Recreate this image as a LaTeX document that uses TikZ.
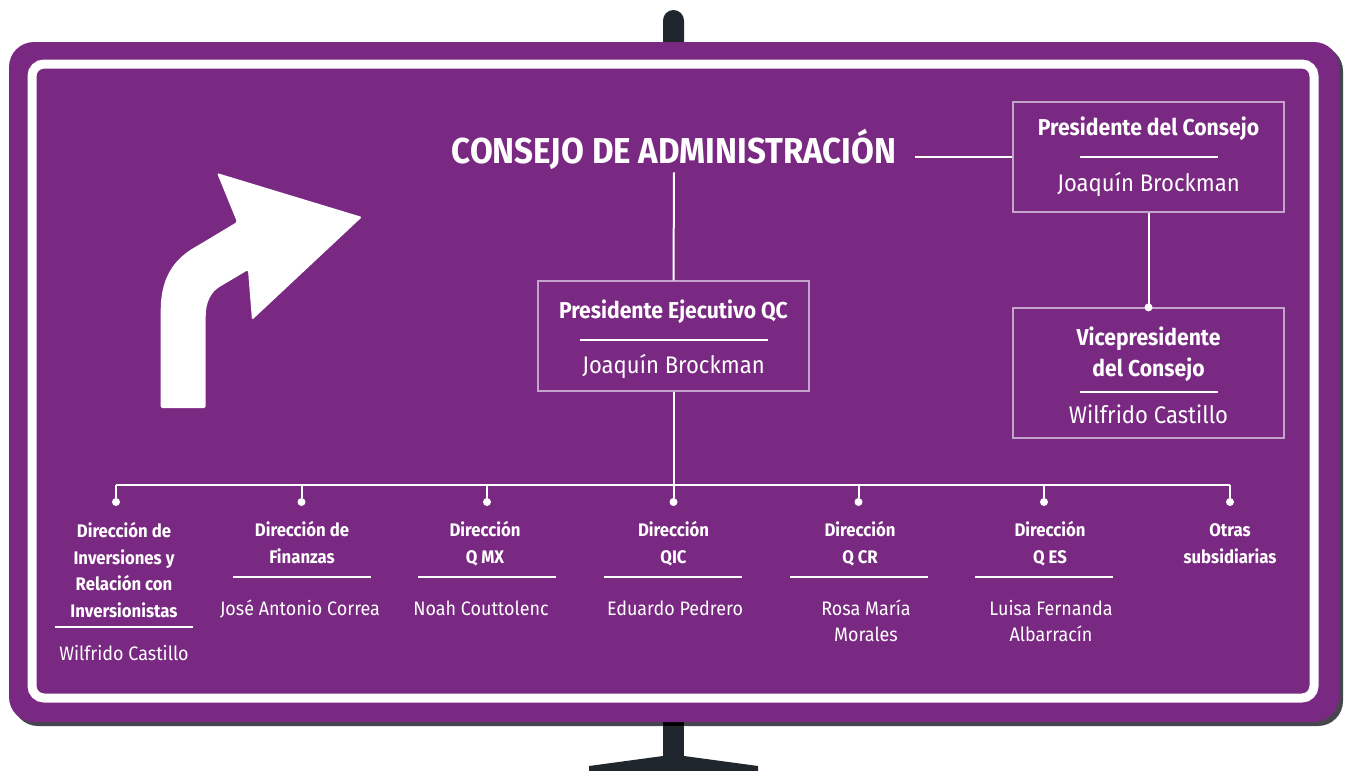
\documentclass[tikz,border=0pt]{standalone}
\usepackage{fontspec}
\setmainfont{Fira Sans}[FakeStretch=0.92]
\usetikzlibrary{positioning}
\definecolor{signpurple}{HTML}{7A2982}
\definecolor{postgrey}{HTML}{1F262D}
\definecolor{shadowgrey}{HTML}{46464E}
\definecolor{framelilac}{HTML}{C4A4CB}
\tikzset{
  frame/.style={draw=framelilac, line width=1.2pt, minimum width=271, minimum height=110, inner sep=0pt},
  boardtitle/.style={text=white, inner sep=0pt, anchor=base, font=\bfseries\fontsize{36}{40}\selectfont},
  head/.style={text=white, inner sep=0pt, anchor=base, align=center, font=\bfseries\fontsize{23}{31}\selectfont},
  who/.style={text=white, inner sep=0pt, anchor=base, align=center, font=\fontsize{24}{29}\selectfont},
  unithead/.style={text=white, inner sep=0pt, anchor=base, align=center, font=\bfseries\fontsize{18.2}{26.5}\selectfont},
  unitwho/.style={text=white, inner sep=0pt, anchor=base, align=center, font=\fontsize{19.5}{26}\selectfont},
  link/.style={draw=white, line width=2pt},
  rule/.style={draw=white, line width=1.5pt},
  dot/.style={circle, fill=white, inner sep=0pt, minimum size=8},
}

\begin{document}
\begin{tikzpicture}[x=1pt, y=-1pt]
\useasboundingbox (0,0) rectangle (1345,771);

% posts
\fill[postgrey, rounded corners=10.5] (663,60) -- (663,10) -- (684,10) -- (684,60) -- cycle;
\fill[postgrey] (663,700) rectangle (684,757);
\fill[postgrey] (663,756) -- (589,766) -- (589,771) -- (758,771) -- (758,766) -- (684,756) -- cycle;

% sign
\fill[shadowgrey, rounded corners=25] (13,46) rectangle (1343,726);
\fill[black] (663,722) rectangle (684,726);
\fill[signpurple, rounded corners=25] (9,42) rectangle (1339,722);
\draw[white, line width=9, rounded corners=12] (32,64) rectangle (1314,698);

% turn arrow
\fill[white, rounded corners=1.5] (160.7,408) -- (160.7,312)
  .. controls (160.7,280) and (172,260) .. (197,246) -- (237,222)
  -- (217,173) -- (362,217) -- (252,320) -- (248,270) -- (221,286)
  .. controls (211,292) and (205.7,302) .. (205.7,318) -- (205.7,408) -- cycle;

% board
\node[boardtitle] (board) at (674,163) {CONSEJO DE ADMINISTRACIÓN};

\node[frame] (pcons) at (1148.5,157) {};
\node[head] (pconshead) at (1148.5,135) {Presidente del Consejo};
\draw[rule] (1080,157) -- (1218,157);
\node[who] (pconswho) at (1148.5,191) {Joaquín Brockman};

\node[frame, minimum height=130] (vice) at (1148.5,373) {};
\node[head] (vicehead) at (1148.5,376) {Vicepresidente\\del Consejo};
\draw[rule] (1080,392) -- (1218,392);
\node[who] (vicewho) at (1148.5,423) {Wilfrido Castillo};

\node[frame] (pej) at (673.5,336) {};
\node[head] (pejhead) at (673.5,318) {Presidente Ejecutivo QC};
\draw[rule] (580,340) -- (768,340);
\node[who] (pejwho) at (673.5,373) {Joaquín Brockman};

\draw[link] (pcons.west) -- ([xshift=18]board.east |- pcons.west);
\draw[link] ([yshift=-3]board.south) -- (pej.north);
\draw[link] (pcons.south) -- (vice.north);
\node[dot] (vicedot) at (vice.north) {};

% units
\coordinate (bus) at (673.5,485);
\foreach \x/\n in {116/d1, 301.5/d2, 487/d3, 673.5/d4, 858.5/d5, 1044/d6, 1230/d7}
  \node[dot] (\n) at (\x,502) {};
\draw[link] (pej.south) -- (bus);
\draw[link] (d1 |- bus) -- (d7 |- bus);
\foreach \n in {d1,d2,d3,d4,d5,d6,d7}
  \draw[link] (\n) -- (\n |- bus);

\node[unithead] (u1) at (124,617) {Dirección de\\Inversiones y\\Relación con\\Inversionistas};
\draw[rule] (55,627) -- (193,627);
\node[unitwho] (w1) at (124,660) {Wilfrido Castillo};

\node[unithead] (u2) at (302,563) {Dirección de\\Finanzas};
\draw[rule] (233,577) -- (371,577);
\node[unitwho] (w2) at (300,615) {José Antonio Correa};

\node[unithead] (u3) at (485,563) {Dirección\\Q MX};
\draw[rule] (418,577) -- (556,577);
\node[unitwho] (w3) at (481,615) {Noah Couttolenc};

\node[unithead] (u4) at (673.5,563) {Dirección\\QIC};
\draw[rule] (604,577) -- (742,577);
\node[unitwho] (w4) at (675,615) {Eduardo Pedrero};

\node[unithead] (u5) at (860,563) {Dirección\\Q CR};
\draw[rule] (790,577) -- (928,577);
\node[unitwho] (w5) at (866,641) {Rosa María\\Morales};

\node[unithead] (u6) at (1050,563) {Dirección\\Q ES};
\draw[rule] (975,577) -- (1113,577);
\node[unitwho] (w6) at (1051,641) {Luisa Fernanda\\Albarracín};

\node[unithead] (u7) at (1230,563) {Otras\\subsidiarias};

\end{tikzpicture}
\end{document}
